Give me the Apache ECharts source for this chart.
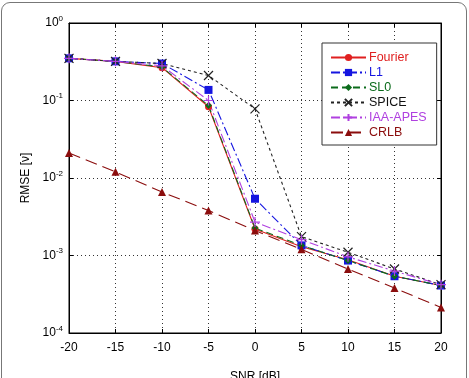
<!DOCTYPE html>
<html>
<head>
<meta charset="utf-8">
<script src="https://cdn.jsdelivr.net/npm/echarts@6/dist/echarts.min.js"></script>
<style>
  html, body { margin: 0; padding: 0; background: #fff; }
  .frame { position: absolute; left: 1px; top: 2px; width: 464px; height: 390px;
           border: 1px solid #777; border-radius: 9px; }
  #main { position: absolute; left: 0; top: 0; width: 469px; height: 378px; }
</style>
</head>
<body>
<div class="frame"></div>
<div id="main"></div>
<script>
// SNR in dB
const snr = [-20, -15, -10, -5, 0, 5, 10, 15, 20];
// RMSE values
const fourier = [0.35, 0.32, 0.265, 0.083, 0.0022, 0.0013, 0.00088, 0.00054, 0.00041];
const l1 = [0.35, 0.32, 0.30, 0.137, 0.0054, 0.00135, 0.00086, 0.00054, 0.00041];
const sl0 = [0.35, 0.32, 0.27, 0.086, 0.00226, 0.00135, 0.00086, 0.00054, 0.00041];
const spice = [0.35, 0.32, 0.30, 0.21, 0.078, 0.00175, 0.0011, 0.00067, 0.00042];
const iaa = [0.35, 0.32, 0.28, 0.10, 0.0027, 0.0016, 0.00096, 0.00063, 0.00042];
const crlb = [0.021, 0.012, 0.0066, 0.0038, 0.0021, 0.0012, 0.00067, 0.00038, 0.000214];

const pairs = (arr) => snr.map((x, i) => [x, arr[i]]);
const font = "Liberation Sans, Arial, sans-serif";

const chart = echarts.init(document.getElementById("main"));

// cross and plus drawn as stroked paths
const crossSym = "path://M0,0L10,10M10,0L0,10";
const plusSym = "path://M5,0L5,10M0,5L10,5";

function mk(name, data, color, dash, symbol, size, filled) {
  return {
    name: name,
    type: "line",
    data: pairs(data),
    symbol: symbol,
    symbolSize: size,
    showSymbol: true,
    lineStyle: { color: color, width: 1.1, type: dash },
    itemStyle: filled
      ? { color: color }
      : { color: "rgba(0,0,0,0)", borderColor: color, borderWidth: 1.2 },
    emphasis: { disabled: true },
    animation: false,
  };
}

const tick = { inside: true, length: 4, lineStyle: { color: "#000" } };
const line = { show: true, onZero: false, lineStyle: { color: "#000" } };
const grid = { show: true, lineStyle: { type: [1, 3], color: "#333" } };

const option = {
  animation: false,
  textStyle: { fontFamily: font },
  grid: {
    left: 69, right: 28, top: 23, bottom: 45,
    outerBoundsMode: "none",
    show: true, borderColor: "#000", borderWidth: 1,
  },
  legend: {
    orient: "vertical",
    left: 322,
    top: 43,
    width: 110,
    padding: [8, 10, 6, 8],
    itemGap: 2,
    itemWidth: 35,
    itemHeight: 9,
    backgroundColor: "#fff",
    borderColor: "#333",
    borderWidth: 1,
    textStyle: { fontSize: 12.5, fontFamily: font, padding: [0, 0, 0, -2] },
    data: [
      { name: "Fourier", textStyle: { color: "#e02020" } },
      { name: "L1", textStyle: { color: "#1515e0" } },
      { name: "SL0", textStyle: { color: "#0b6b1b" } },
      { name: "SPICE", textStyle: { color: "#111" } },
      { name: "IAA-APES", textStyle: { color: "#b040e0" } },
      { name: "CRLB", textStyle: { color: "#8b0d0d" } },
    ],
  },
  xAxis: [
    {
      type: "value",
      min: -20,
      max: 20,
      interval: 5,
      name: "SNR [dB]",
      nameLocation: "middle",
      nameGap: 38,
      nameTextStyle: { fontSize: 12, color: "#000" },
      axisLine: line,
      axisTick: tick,
      axisLabel: { fontSize: 12, color: "#000", margin: 9 },
      splitLine: grid,
    },
    {
      type: "value",
      position: "top",
      min: -20,
      max: 20,
      interval: 5,
      axisLine: line,
      axisTick: tick,
      axisLabel: { show: false },
      splitLine: { show: false },
    },
  ],
  yAxis: [
    {
      type: "log",
      logBase: 10,
      min: 1e-4,
      max: 1,
      name: "RMSE [\u03bd]",
      nameLocation: "middle",
      nameGap: 36,
      nameTextStyle: { fontSize: 12, color: "#000" },
      axisLine: line,
      axisTick: tick,
      axisLabel: {
        margin: 6,
        color: "#000",
        formatter: (v) => "{b|10}{s|" + Math.round(Math.log10(v)) + "}",
        rich: {
          b: { fontSize: 12, color: "#000", fontFamily: font },
          s: { fontSize: 8, color: "#000", fontFamily: font, padding: [0, 0, 9, 0] },
        },
      },
      splitLine: grid,
    },
    {
      type: "log",
      logBase: 10,
      min: 1e-4,
      max: 1,
      position: "right",
      axisLine: line,
      axisTick: tick,
      axisLabel: { show: false },
      splitLine: { show: false },
    },
  ],
  series: [
    mk("Fourier", fourier, "#e02020", "solid", "circle", 7, true),
    mk("L1", l1, "#1515e0", [9, 3, 2, 3], "rect", 8, true),
    mk("SL0", sl0, "#0b6b1b", [7, 4], "diamond", 7, true),
    mk("SPICE", spice, "#222", [3, 3], crossSym, 9, false),
    mk("IAA-APES", iaa, "#b040e0", [9, 3, 2, 3], plusSym, 10, false),
    mk("CRLB", crlb, "#8b0d0d", [12, 6], "triangle", 8, true),
  ],
};

chart.setOption(option);
</script>
</body>
</html>
